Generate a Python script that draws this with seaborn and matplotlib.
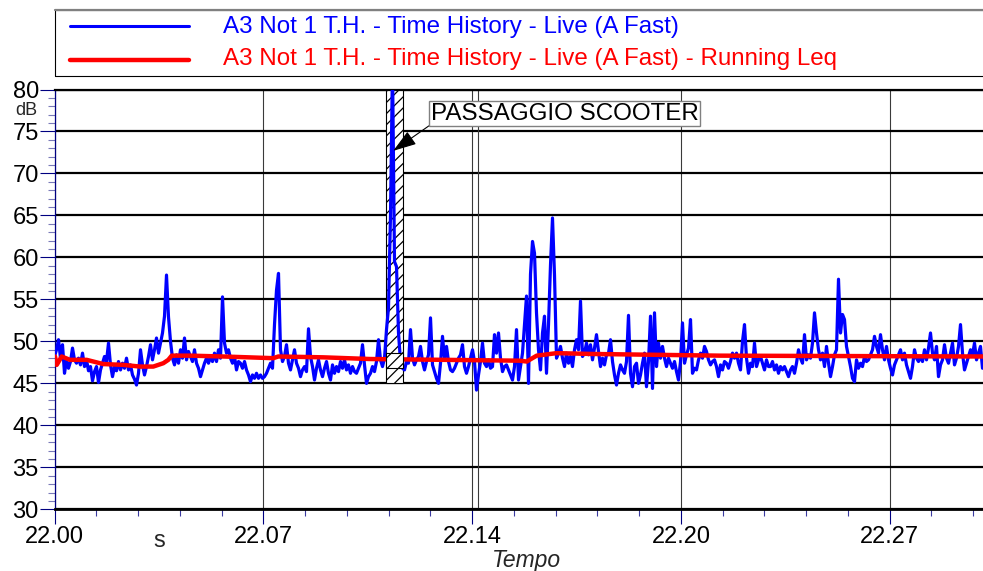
import numpy as np
import pandas as pd
import matplotlib
matplotlib.use("Agg")
import matplotlib.pyplot as plt
import matplotlib.transforms as mtransforms
from matplotlib.patches import Rectangle
from matplotlib.lines import Line2D
from matplotlib.ticker import MultipleLocator, FixedLocator, FixedFormatter
import seaborn as sns

# ---------------- data ----------------
SERIES_LABELS = [
    "A3 Not 1 T.H. - Time History - Live (A Fast)",
    "A3 Not 1 T.H. - Time History - Live (A Fast) - Running Leq",
]
TICK_LABELS = ["22.00", "22.07", "22.14", "22.20", "22.27"]
X_UNIT = "s"
X_TITLE = "Tempo"
Y_UNIT = "dB"
EVENT_LABEL = "PASSAGGIO SCOOTER"

MAJOR_STEP_S = 417.6      # seconds between labelled ticks
SAMPLE_STEP_S = 4.0       # time-history sample interval (s)
T_END = 1857.0

LIVE_DB = [
    48.2, 49.0, 50.2, 48.0, 49.6, 46.2, 47.8, 46.8, 47.6, 49.2,
    47.8, 47.4, 48.0, 47.2, 48.6, 47.0, 47.8, 46.5, 47.0, 45.3,
    46.4, 47.0, 45.1, 46.6, 47.4, 48.2, 47.6, 49.8, 47.2, 45.8,
    47.0, 46.5, 47.6, 46.6, 47.4, 46.8, 48.0, 46.6, 47.2, 46.0,
    45.5, 44.8, 46.2, 49.0, 47.2, 46.0, 47.0, 48.2, 49.6, 47.8,
    49.0, 50.4, 48.6, 49.8, 51.0, 53.0, 57.9, 52.9, 50.0, 48.0,
    47.2, 48.4, 47.4, 49.0, 48.0, 50.4, 47.8, 48.8, 48.2, 47.6,
    49.0, 47.4, 46.8, 45.8, 46.6, 47.4, 48.0, 47.4, 48.2, 47.6,
    48.6, 47.6, 49.0, 48.0, 55.3, 49.8, 48.6, 49.0, 48.0, 47.4,
    48.2, 46.6, 47.6, 47.4, 46.8, 47.6, 46.6, 46.0, 45.2, 46.0,
    45.6, 46.2, 45.6, 46.0, 45.6, 45.8, 46.2, 46.8, 47.4, 46.8,
    52.0, 56.1, 58.1, 49.0, 47.6, 48.2, 49.6, 47.4, 46.6, 47.8,
    49.0, 47.4, 46.8, 45.8, 46.6, 47.0, 46.4, 51.5, 48.2, 47.0,
    45.4, 46.8, 47.8, 46.6, 45.8, 46.8, 47.6, 46.2, 45.4, 47.2,
    46.2, 47.0, 46.4, 47.6, 46.8, 47.8, 46.6, 47.2, 46.2, 47.0,
    46.4, 46.2, 46.8, 47.4, 49.6, 47.2, 45.0, 45.8, 46.2, 47.0,
    46.4, 47.6, 50.2, 47.8, 47.0, 48.0, 51.4, 54.0, 65.0, 83.0,
    59.5, 58.9, 51.0, 47.6, 46.8, 46.6, 47.6, 47.4, 51.4, 48.0,
    47.2, 47.8, 48.2, 49.4, 47.6, 46.6, 47.6, 48.4, 52.8, 47.2,
    46.4, 45.6, 45.0, 47.4, 50.6, 48.0, 49.4, 47.6, 46.6, 46.4,
    46.8, 47.4, 48.0, 48.4, 49.6, 47.0, 46.2, 47.0, 48.0, 49.0,
    47.6, 44.2, 46.0, 47.6, 49.8, 47.4, 47.0, 47.8, 46.8, 47.0,
    50.8, 48.6, 51.0, 48.0, 46.4, 47.0, 47.2, 46.6, 46.0, 45.4,
    47.0, 51.4, 45.4, 47.0, 48.6, 52.0, 55.4, 45.0, 58.0, 61.9,
    60.5, 53.4, 49.0, 46.6, 51.0, 53.0, 46.2, 52.0, 59.1, 64.7,
    57.9, 48.0, 48.6, 49.4, 48.0, 47.0, 48.6, 47.4, 48.2, 47.0,
    49.0, 50.2, 49.0, 54.8, 48.2, 48.6, 49.8, 48.4, 49.6, 47.8,
    49.2, 50.8, 48.8, 47.0, 48.0, 47.2, 48.4, 48.6, 50.2, 47.6,
    46.0, 44.8, 46.2, 47.2, 46.6, 46.2, 47.6, 53.1, 46.2, 44.6,
    47.0, 47.4, 45.0, 46.0, 47.4, 48.6, 44.6, 47.6, 53.0, 44.4,
    53.4, 47.0, 49.8, 48.0, 49.4, 48.0, 47.0, 48.0, 47.4, 46.8,
    47.6, 46.4, 45.4, 47.6, 52.2, 47.4, 48.4, 49.2, 52.6, 46.2,
    46.8, 46.6, 47.8, 48.6, 48.0, 49.4, 48.8, 47.8, 47.2, 47.6,
    47.8, 47.0, 45.8, 47.2, 46.6, 47.6, 47.4, 46.8, 47.6, 48.6,
    48.0, 48.6, 47.4, 46.6, 50.0, 52.0, 48.0, 46.2, 47.4, 47.0,
    49.8, 47.0, 47.8, 48.2, 47.4, 46.6, 47.8, 47.0, 47.0, 47.6,
    46.6, 47.2, 46.2, 47.0, 46.6, 47.0, 46.4, 45.8, 46.6, 47.0,
    46.2, 47.4, 49.0, 48.0, 47.4, 50.8, 47.8, 48.4, 48.0, 49.8,
    53.4, 51.0, 49.0, 47.8, 48.6, 47.0, 49.4, 47.4, 45.8, 47.0,
    48.4, 49.0, 57.4, 51.0, 53.2, 52.6, 49.4, 48.2, 47.0, 45.6,
    45.2, 47.8, 46.8, 47.4, 47.0, 48.2, 47.6, 47.8, 48.4, 49.0,
    50.6, 49.4, 48.6, 50.8, 49.0, 47.8, 49.4, 47.8, 46.8, 46.0,
    47.2, 47.8, 48.4, 49.0, 47.8, 48.6, 47.2, 46.4, 45.6, 47.0,
    49.0, 48.0, 47.6, 48.2, 47.6, 49.0, 47.8, 49.2, 51.0, 48.6,
    47.8, 49.4, 45.8, 47.2, 47.8, 49.6, 48.0, 47.4, 48.6, 49.8,
    47.2, 48.0, 49.4, 52.0, 48.6, 46.6, 47.4, 48.2, 49.0, 48.4,
    49.8, 47.8, 48.6, 49.4, 46.8,
]

LEQ_T = [1, 4.4, 14.4, 31, 64.4, 97.6, 137.6, 171, 197.6, 217.6, 227.6,
         234.4, 271, 337.6, 437.6, 447.6, 537.6, 631, 931, 944.4, 964.4,
         1004.4, 1077, 1331, 1857]
LEQ_DB = [48.2, 47.2, 48.2, 47.8, 47.8, 47.3, 47.2, 47.0, 47.0, 47.4, 47.8,
          48.3, 48.3, 48.2, 48.0, 48.2, 48.1, 47.9, 47.7, 47.6, 48.3,
          48.6, 48.5, 48.3, 48.2]

EVENT_T = (662.4, 696.4)        # hatched event window (s)
EVENT_DB = (45.0, 80.0)
EVENT_MARK_DB = (46.8, 48.67)
CURSOR_T = 847.6
ARROW_TIP = (677.6, 72.7)
LABEL_POS = (752.4, 77.13)

# ---------------- figure ----------------
sns.set_style("white")
plt.rcParams["font.family"] = ["Liberation Sans", "DejaVu Sans"]
plt.rcParams["hatch.linewidth"] = 0.9

W, H = 983, 571
fig = plt.figure(figsize=(W / 100, H / 100), dpi=100)
ax_l, ax_r, ax_t, ax_b = 54.5, 983.0, 89.5, 509.3
ax = fig.add_axes([ax_l / W, 1 - ax_b / H, (ax_r - ax_l) / W, (ax_b - ax_t) / H])

live = pd.DataFrame({"t": np.arange(len(LIVE_DB)) * SAMPLE_STEP_S, "db": LIVE_DB})
leq = pd.DataFrame({"t": LEQ_T, "db": LEQ_DB})

BLUE = "#0000ff"
RED = "#ff0000"
sns.lineplot(data=live, x="t", y="db", ax=ax, color=BLUE, lw=2.3,
             estimator=None, sort=False, zorder=3)
sns.lineplot(data=leq, x="t", y="db", ax=ax, color=RED, lw=3.2,
             estimator=None, sort=False, zorder=3.5)

ax.set_xlim(0, T_END)
ax.set_ylim(30, 80)
ax.set_xlabel("")
ax.set_ylabel("")

# ticks
majors = [i * MAJOR_STEP_S for i in range(len(TICK_LABELS))]
ax.xaxis.set_major_locator(FixedLocator(majors))
ax.xaxis.set_major_formatter(FixedFormatter(TICK_LABELS))
ax.xaxis.set_minor_locator(MultipleLocator(MAJOR_STEP_S / 5))
ax.yaxis.set_major_locator(MultipleLocator(5))
ax.yaxis.set_minor_locator(MultipleLocator(1))

NAVY = "#000080"
ax.tick_params(axis="both", which="major", direction="out", length=10.8,
               width=0.8, color=NAVY, labelsize=17, labelcolor="black")
ax.tick_params(axis="y", which="major", pad=0.5)
ax.tick_params(axis="x", which="major", pad=1.0)
ax.tick_params(axis="y", which="minor", direction="out", length=5,
               width=0.8, color="#7a7ab8")
ax.tick_params(axis="x", which="minor", direction="out", length=5,
               width=0.8, color="#3a3aa0")
ax.tick_params(left=True, bottom=True, which="both")

# grid
ax.set_axisbelow(True)
ax.yaxis.grid(True, which="major", color="black", lw=1.6)
ax.xaxis.grid(True, which="major", color="#3a3a3a", lw=0.8)
ax.axvline(CURSOR_T, color="#3a3a3a", lw=0.8, zorder=0.6)

ax.spines["right"].set_visible(False)
ax.spines["left"].set_color(NAVY)
ax.spines["left"].set_linewidth(0.9)
ax.spines["bottom"].set_color("black")
ax.spines["bottom"].set_linewidth(2.0)
ax.spines["top"].set_color("black")
ax.spines["top"].set_linewidth(1.6)

# event window
ax.add_patch(Rectangle((EVENT_T[0], EVENT_DB[0]), EVENT_T[1] - EVENT_T[0],
                       EVENT_DB[1] - EVENT_DB[0], facecolor="white",
                       edgecolor="black", hatch="///", lw=0.8, zorder=2.5))
ax.add_patch(Rectangle((EVENT_T[0], EVENT_MARK_DB[0]), EVENT_T[1] - EVENT_T[0],
                       EVENT_MARK_DB[1] - EVENT_MARK_DB[0], facecolor="white",
                       edgecolor="black", hatch="///", lw=0.8, zorder=4))

ax.annotate(EVENT_LABEL, xy=ARROW_TIP, xytext=LABEL_POS, ha="left", va="center",
            fontsize=17.4, color="black", zorder=6,
            bbox=dict(boxstyle="square,pad=0.05", fc="white", ec="#808080", lw=1.0),
            arrowprops=dict(arrowstyle="-|>,head_length=0.9,head_width=0.3",
                            color="black", lw=0.8, mutation_scale=16,
                            relpos=(0.0, 0.0), shrinkA=0, shrinkB=0))

# unit labels
tr_fy = mtransforms.blended_transform_factory(fig.transFigure, ax.transData)
ax.text(37.5 / W, 77.45, Y_UNIT, transform=tr_fy, ha="right", va="center",
        fontsize=13)
tr_xf = mtransforms.blended_transform_factory(ax.transData, fig.transFigure)
ax.text(MAJOR_STEP_S / 2, 1 - 546.7 / H, X_UNIT, transform=tr_xf, ha="center",
        va="baseline", fontsize=17)
fig.text(527 / W, 1 - 567.5 / H, X_TITLE, ha="center", va="baseline", fontsize=16.5,
         style="italic")

# legend box
fig.add_artist(Rectangle((54.5 / W, 1 - 76 / H), (995 - 54.5) / W, 66 / H,
                         transform=fig.transFigure, fill=False, ec="black", lw=0.8))
fig.add_artist(Line2D([54.5 / W, 1.0], [1 - 10 / H] * 2, transform=fig.transFigure,
                      color="#808080", lw=1.6))
for label, col, yb, ly, lw in [(SERIES_LABELS[0], BLUE, 32.7, 26, 2.2),
                               (SERIES_LABELS[1], RED, 65.0, 60, 3.2)]:
    fig.add_artist(Line2D([70 / W, 189 / W], [1 - ly / H] * 2, transform=fig.transFigure,
                          color=col, lw=lw, solid_capstyle="round"))
    fig.text(223 / W, 1 - yb / H, label, color=col, ha="left", va="baseline",
             fontsize=17.4)

fig.savefig("out.png", dpi=100)
